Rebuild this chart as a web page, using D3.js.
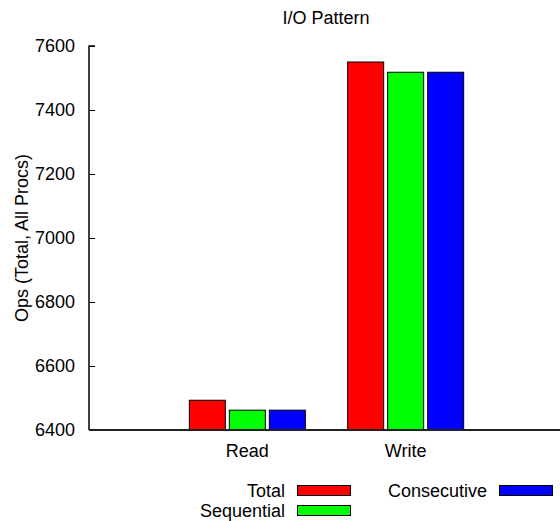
<!DOCTYPE html>
<html>
<head>
<meta charset="utf-8">
<script src="https://cdn.jsdelivr.net/npm/d3@7"></script>
<style>
  body { margin: 0; background: #fff; }
  svg { display: block; font-family: "Liberation Sans", Arial, sans-serif; }
</style>
</head>
<body>
<script>
const categories = ["Read", "Write"];
const seriesNames = ["Total", "Sequential", "Consecutive"];
const seriesColors = ["#ff0000", "#00ff00", "#0000ff"];
const total = [6493, 7550];
const sequential = [6462, 7518];
const consecutive = [6462, 7518];
const yTicks = [6400, 6600, 6800, 7000, 7200, 7400, 7600];

const width = 560, height = 521;
const values = [total, sequential, consecutive];

const svg = d3.select("body").append("svg")
    .attr("width", width)
    .attr("height", height)
    .attr("font-size", 18);

const x = d3.scaleLinear().domain([0, 3]).range([89, 564]);
const y = d3.scaleLinear().domain([6400, 7600]).range([430, 46]);
const xs = d3.scaleBand().domain(seriesNames).range([-58, 58]).paddingInner(0.1);

// title
svg.append("text")
    .attr("x", 326)
    .attr("y", 24)
    .attr("text-anchor", "middle")
    .text("I/O Pattern");

// bars
const rows = categories.map((c, i) => ({c, i}));
svg.append("g")
  .selectAll("g")
  .data(seriesNames)
  .join("g")
    .attr("fill", (d, s) => seriesColors[s])
    .attr("stroke", "#000")
  .each(function(name, s) {
    d3.select(this).selectAll("rect")
      .data(rows)
      .join("rect")
        .attr("x", d => x(d.i + 1) + xs(name))
        .attr("width", xs.bandwidth())
        .attr("y", d => y(values[s][d.i]))
        .attr("height", d => y(6400) - y(values[s][d.i]));
  });

// y axis
const yAxis = svg.append("g")
    .attr("transform", `translate(89,0)`)
    .call(d3.axisRight(y).tickValues(yTicks).tickSize(6).tickFormat(d3.format("d")));
yAxis.select(".domain").attr("d", `M6,${y(7600)}H0V${y(6400)}`).attr("stroke", "#000").attr("stroke-width", 1.5);
yAxis.selectAll(".tick line").attr("stroke", "#000");
yAxis.selectAll(".tick text")
    .attr("x", -14)
    .attr("text-anchor", "end")
    .attr("font-size", 18)
    .attr("fill", "#000");
yAxis.attr("font-family", null);

// x axis
svg.append("line")
    .attr("x1", 89).attr("x2", width)
    .attr("y1", y(6400)).attr("y2", y(6400))
    .attr("stroke", "#222")
    .attr("stroke-width", 2);
svg.append("g")
  .selectAll("text")
  .data(categories)
  .join("text")
    .attr("x", (d, i) => x(i + 1))
    .attr("y", 457)
    .attr("text-anchor", "middle")
    .text(d => d);

// y label
svg.append("text")
    .attr("transform", `translate(28,238) rotate(-90)`)
    .attr("text-anchor", "middle")
    .text("Ops (Total, All Procs)");

// legend
const legendPos = [[285, 0], [285, 1], [487, 0]];
const legend = svg.append("g")
  .selectAll("g")
  .data(seriesNames)
  .join("g")
    .attr("transform", (d, i) => `translate(${legendPos[i][0]},${490 + legendPos[i][1] * 20})`);
legend.append("text")
    .attr("text-anchor", "end")
    .attr("y", 7)
    .text(d => d);
legend.append("rect")
    .attr("x", 12.5)
    .attr("y", -4.5)
    .attr("width", 53)
    .attr("height", 10)
    .attr("fill", (d, i) => seriesColors[i])
    .attr("stroke", "#000");
</script>
</body>
</html>
